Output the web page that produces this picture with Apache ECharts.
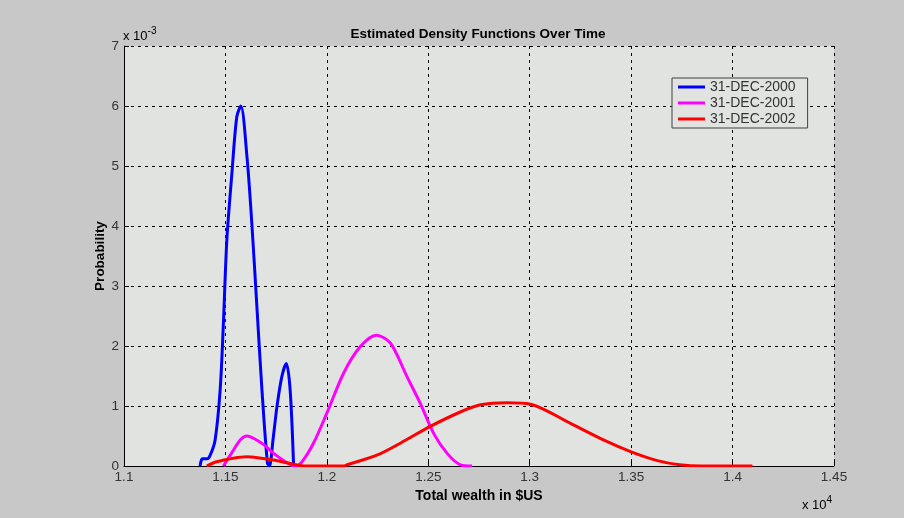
<!DOCTYPE html>
<html>
<head>
<meta charset="utf-8">
<style>
  html, body { margin: 0; padding: 0; background: #c8c8c8; }
  #chart { width: 904px; height: 518px; }
</style>
<script src="https://cdn.jsdelivr.net/npm/echarts@6/dist/echarts.min.js"></script>
</head>
<body>
<div id="chart"></div>
<script>
// wealth in units of 1e4, density in units of 1e-3
var seriesNames = ['31-DEC-2000', '31-DEC-2001', '31-DEC-2002']
var seriesColors = ['#0000ff', '#ff00ff', '#ff0000']

var x2000 = [1.1375, 1.1385, 1.1395, 1.141, 1.1425, 1.1449, 1.1474, 1.149, 1.1507, 1.1532, 1.1556, 1.1576,
  1.1606, 1.163, 1.1655, 1.168, 1.1707, 1.1717, 1.1735, 1.1754, 1.1778, 1.18, 1.1819, 1.1836]
var y2000 = [0, 0.12, 0.12, 0.12, 0.18, 0.43, 1.27, 2.38, 3.77, 4.88, 5.82, 6.0,
  5.16, 4.05, 2.66, 1.27, 0.05, 0, 0.45, 0.99, 1.49, 1.71, 1.27, 0]

var x2001 = [1.149, 1.1535, 1.1575, 1.1606, 1.1645, 1.1695, 1.1737, 1.182, 1.1844, 1.1875, 1.1934, 1.2,
  1.2083, 1.2165, 1.2244, 1.2313, 1.2395, 1.2461, 1.2527, 1.2593, 1.2658, 1.2716]
var y2001 = [0, 0.24, 0.44, 0.5, 0.45, 0.34, 0.21, 0.02, 0, 0.06, 0.38, 0.88,
  1.55, 1.99, 2.18, 2.05, 1.49, 1.04, 0.54, 0.21, 0.02, 0]

var x2002 = [1.1408, 1.1457, 1.1539, 1.1606, 1.1675, 1.1737, 1.1834, 1.19, 1.2, 1.2083, 1.21, 1.2247,
  1.2362, 1.251, 1.2658, 1.2757, 1.2889, 1.3004, 1.3201, 1.3366, 1.3497, 1.3629, 1.374, 1.385, 1.4098]
var y2002 = [0, 0.07, 0.13, 0.155, 0.13, 0.1, 0.03, 0, 0, 0, 0.02, 0.18,
  0.38, 0.66, 0.9, 1.02, 1.055, 1.03, 0.71, 0.43, 0.24, 0.09, 0.02, 0, 0]

var xValues = [x2000, x2001, x2002]
var yValues = [y2000, y2001, y2002]

var chart = echarts.init(document.getElementById('chart'))

var font = 'Arial, "Liberation Sans", Helvetica, sans-serif'

function pairs (xs, ys) {
  return xs.map(function (x, i) { return [x, ys[i]] })
}

// "x 10^n" exponent labels, matlab style
function expLabel (left, top, exp) {
  return {
    type: 'text',
    left: left,
    top: top,
    style: {
      text: '{a|x 10}{s|' + exp + '}',
      rich: {
        a: { fontFamily: font, fontSize: 13, color: '#333', verticalAlign: 'bottom' },
        s: { fontFamily: font, fontSize: 10, color: '#333', verticalAlign: 'top', padding: [0, 0, 7, 0] }
      }
    }
  }
}

var option = {
  backgroundColor: '#c8c8c8',
  animation: false,
  title: {
    text: 'Estimated Density Functions Over Time',
    left: 473,
    top: 22,
    textAlign: 'center',
    textStyle: { fontFamily: font, fontSize: 13.5, fontWeight: 'bold', color: '#000' }
  },
  grid: {
    left: 124, right: 70, top: 46, bottom: 52,
    show: true, backgroundColor: '#e0e3e0', borderWidth: 0
  },
  legend: {
    orient: 'vertical',
    left: 672,
    top: 78,
    data: seriesNames,
    icon: 'rect',
    itemWidth: 27,
    itemHeight: 3,
    itemGap: 2,
    padding: [2, 12, 2, 6],
    backgroundColor: '#e0e3e0',
    borderColor: '#404040',
    borderWidth: 1,
    borderRadius: 0,
    textStyle: { fontFamily: font, fontSize: 14, color: '#333' }
  },
  xAxis: {
    type: 'value',
    min: 1.1,
    max: 1.45,
    interval: 0.05,
    name: 'Total wealth in $US',
    nameLocation: 'middle',
    nameGap: 20,
    nameTextStyle: { fontFamily: font, fontSize: 14, fontWeight: 'bold', color: '#000' },
    axisLine: { show: true, lineStyle: { color: '#000', width: 1 } },
    axisTick: { show: true, inside: true, length: 5, lineStyle: { color: '#000' } },
    axisLabel: {
      fontFamily: font, fontSize: 13.5, color: '#333', margin: 4,
      formatter: function (v) { return String(Math.round(v * 100) / 100) }
    },
    splitLine: { show: true, lineStyle: { color: '#000', type: [3, 4], width: 1 } }
  },
  yAxis: {
    type: 'value',
    min: 0,
    max: 7,
    interval: 1,
    name: 'Probability',
    nameLocation: 'middle',
    nameGap: 17,
    nameMoveOverlap: false,
    nameTextStyle: { fontFamily: font, fontSize: 13.5, fontWeight: 'bold', color: '#000' },
    axisLine: { show: true, lineStyle: { color: '#000', width: 1 } },
    axisTick: { show: true, inside: true, length: 5, lineStyle: { color: '#000' } },
    axisLabel: { fontFamily: font, fontSize: 13.5, color: '#333', margin: 5 },
    splitLine: { show: true, lineStyle: { color: '#000', type: [3, 4], width: 1 } }
  },
  graphic: [
    expLabel(123, 26, '-3'),
    expLabel(802, 495, '4')
  ],
  series: seriesNames.map(function (name, i) {
    return {
      name: name,
      type: 'line',
      smooth: 0.3,
      showSymbol: false,
      color: seriesColors[i],
      lineStyle: { width: 3, color: seriesColors[i] },
      data: pairs(xValues[i], yValues[i])
    }
  })
}

chart.setOption(option)
</script>
</body>
</html>
